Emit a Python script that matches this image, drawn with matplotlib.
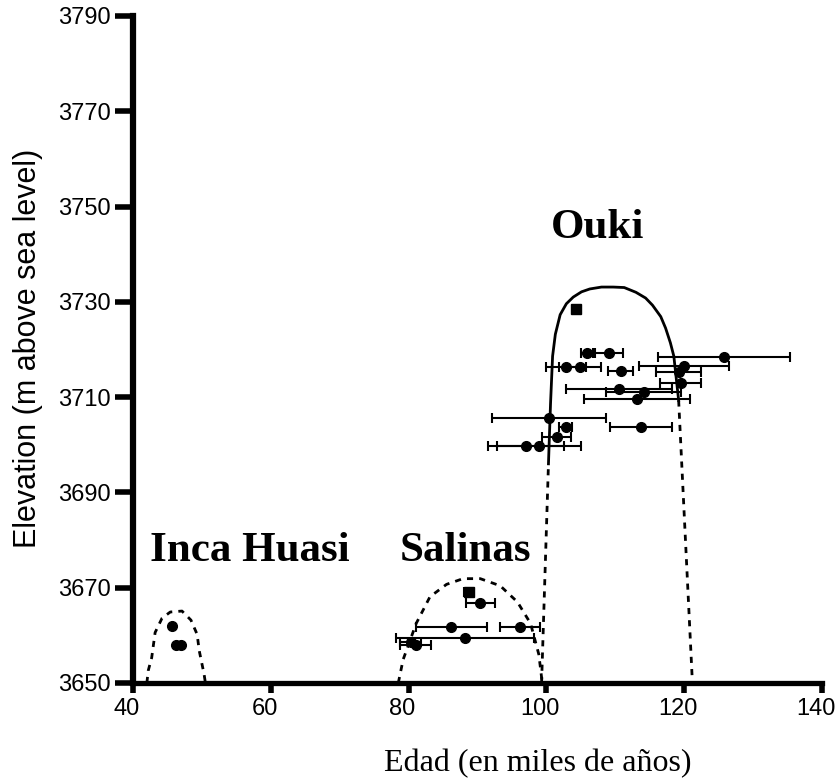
import matplotlib
matplotlib.use("Agg")
import matplotlib.pyplot as plt
import matplotlib.transforms as mtransforms
import numpy as np

# Inca Huasi
inca_x = [45.7, 46.3, 47.0]
inca_y = [3661.9, 3657.9, 3657.9]
inca_arc_x = [42.0, 42.2, 42.7, 43.2, 44.2, 45.4, 47.1, 48.4, 49.3, 49.6, 50.3, 50.5]
inca_arc_y = [3650, 3652.6, 3655.3, 3660.6, 3663.6, 3664.9, 3665.1, 3663.2, 3660.2, 3656.8, 3651.9, 3650]

# Salinas
sal_x = [90.4, 86.2, 96.2, 88.2, 80.3, 81.0]
sal_y = [3666.8, 3661.7, 3661.7, 3659.4, 3658.6, 3658.0]
sal_err = [2.1, 5.2, 2.9, 10.0, 1.5, 2.3]
sal_sq_x = [88.7]
sal_sq_y = [3669.0]
sal_sq_err = [0.7]
sal_arc_x = [78.5, 79.2, 81.1, 83.1, 85.5, 87.9, 90.4, 93.3, 95.8, 97.7, 98.9, 99.4]
sal_arc_y = [3650, 3654.9, 3662.5, 3668.1, 3670.7, 3671.9, 3671.9, 3670.4, 3667.0, 3662.5, 3656.0, 3650]

# Ouki
ouki_x = [105.9, 109.1, 102.9, 104.9, 110.8, 125.8, 120.0, 119.2, 119.5, 110.5,
          114.1, 113.2, 100.4, 113.7, 102.8, 101.5, 97.0, 98.9]
ouki_y = [3719.3, 3719.3, 3716.4, 3716.4, 3715.4, 3718.5, 3716.6, 3715.3, 3712.9, 3711.6,
          3711.1, 3709.7, 3705.7, 3703.8, 3703.8, 3701.7, 3699.7, 3699.7]
ouki_err = [0.9, 2.0, 2.9, 3.0, 1.8, 9.6, 6.5, 3.3, 3.0, 7.7,
            5.5, 7.7, 8.3, 4.5, 0.9, 2.1, 5.5, 6.1]
ouki_sq_x = [104.3]
ouki_sq_y = [3728.6]
ouki_sq_err = [0.5]
ouki_curve_x = [100.3, 100.6, 100.9, 101.3, 102.0, 102.9, 103.9, 105.1, 106.3, 108.0,
                109.7, 111.3, 113.0, 114.4, 115.4, 116.6, 117.3, 118.0, 118.5, 118.9, 119.2]
ouki_curve_y = [3696.0, 3708.6, 3718.6, 3723.2, 3727.3, 3729.6, 3731.0, 3732.1, 3732.7, 3733.1,
                3733.1, 3733.0, 3732.0, 3730.8, 3729.3, 3726.9, 3724.5, 3721.4, 3718.6, 3713.3, 3709.3]
ouki_left_x = [99.3, 100.3]
ouki_left_y = [3650, 3696.0]
ouki_right_x = [119.2, 121.2]
ouki_right_y = [3709.3, 3650]

fig = plt.figure(figsize=(8.37, 7.82), dpi=100)
ax = fig.add_axes([0.159, 0.1266, 0.823, 0.853])

dash = (0, (2.2, 2.2))
ax.plot(inca_arc_x, inca_arc_y, color="black", lw=2, linestyle=dash)
ax.plot(sal_arc_x, sal_arc_y, color="black", lw=2, linestyle=dash)
ax.plot(ouki_left_x, ouki_left_y, color="black", lw=2, linestyle=dash)
ax.plot(ouki_right_x, ouki_right_y, color="black", lw=2, linestyle=dash)
ax.plot(ouki_curve_x, ouki_curve_y, color="black", lw=2)

eb = dict(fmt="o", color="black", ms=7, elinewidth=1.5, capsize=3.5, capthick=1.5)
ax.errorbar(sal_x, sal_y, xerr=sal_err, **eb)
ax.errorbar(ouki_x, ouki_y, xerr=ouki_err, **eb)
sq = dict(eb, fmt="s")
ax.errorbar(sal_sq_x, sal_sq_y, xerr=sal_sq_err, **sq)
ax.errorbar(ouki_sq_x, ouki_sq_y, xerr=ouki_sq_err, **sq)
ax.plot(inca_x, inca_y, "o", color="black", ms=7)

ax.set_xlim(40, 140)
ax.set_ylim(3650, 3790)
ax.set_xticks(np.arange(40, 141, 20))
ax.set_yticks(np.arange(3650, 3791, 20))
ax.spines["top"].set_visible(False)
ax.spines["right"].set_visible(False)
ax.spines["left"].set_linewidth(4.5)
ax.spines["bottom"].set_linewidth(3.8)
ax.tick_params(axis="y", direction="out", length=13, width=4, pad=3)
ax.tick_params(axis="x", direction="out", length=7, width=4, pad=4)
for lab in ax.get_xticklabels() + ax.get_yticklabels():
    lab.set_fontfamily("Liberation Sans")
    lab.set_fontsize(17)
shift = mtransforms.ScaledTranslation(-6 / 100, 0, fig.dpi_scale_trans)
for lab in ax.get_xticklabels():
    lab.set_transform(lab.get_transform() + shift)

serif_bold = dict(family="Liberation Serif", fontweight="bold", fontsize=31,
                  ha="center", va="center")
ax.text(107.5, 3745.4, "Ouki", **serif_bold)
ax.text(57.0, 3677.6, "Inca Huasi", **serif_bold)
ax.text(88.3, 3677.6, "Salinas", **serif_bold)

fig.text(0.033, 0.555, "Elevation (m above sea level)", rotation=90,
         ha="center", va="center", family="Liberation Sans", fontsize=22)
fig.text(0.642, 0.024, "Edad (en miles de años)", ha="center", va="center",
         family="Liberation Serif", fontsize=23)

fig.savefig("out.png", dpi=100)
